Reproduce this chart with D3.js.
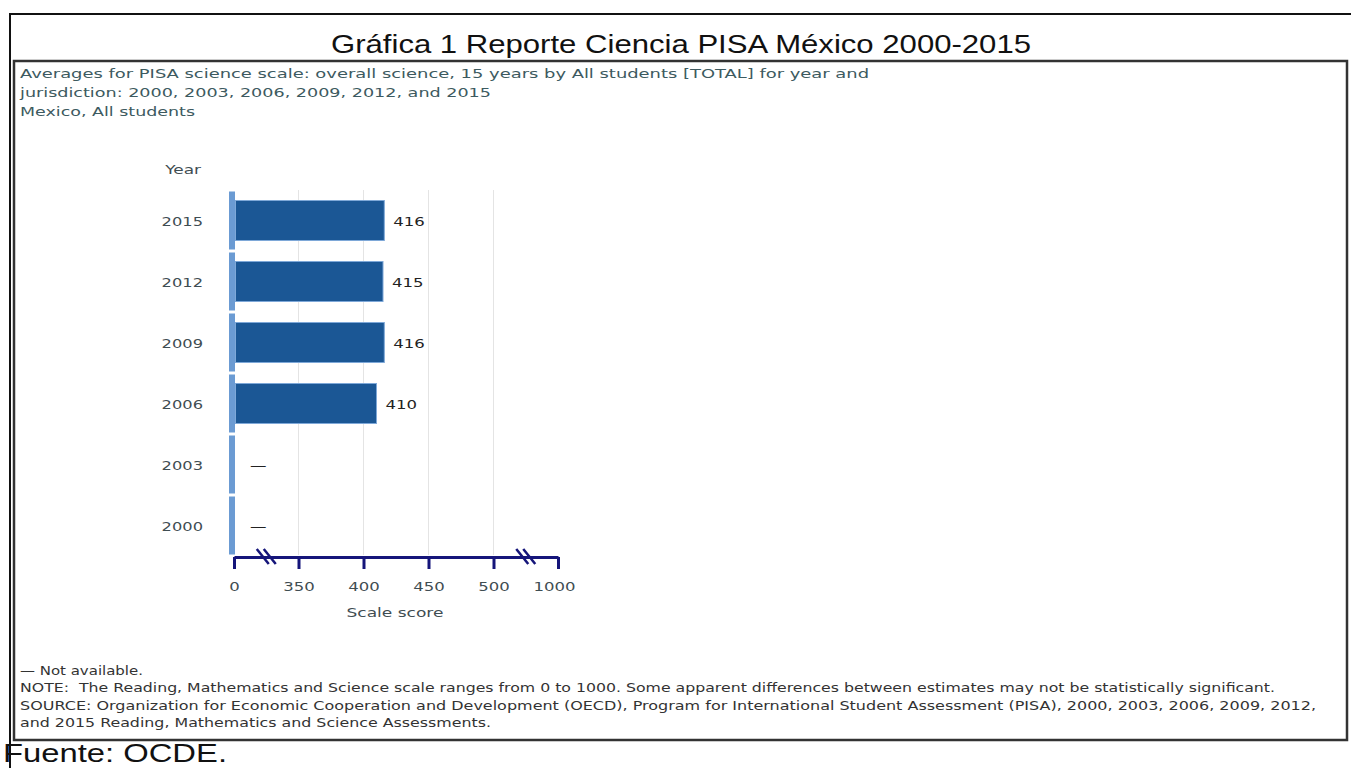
<!DOCTYPE html>
<html>
<head>
<meta charset="utf-8">
<script src="https://cdn.jsdelivr.net/npm/d3@7"></script>
<style>
  body { margin: 0; background: #fff; }
  svg { display: block; }
  text { white-space: pre; }
</style>
</head>
<body>
<div id="chart"></div>
<script>
// data
var years = ["2015", "2012", "2009", "2006", "2003", "2000"];
var scores = [416, 415, 416, 410, null, null];
var tickValues = [0, 350, 400, 450, 500, 1000];
var tickLabels = ["0", "350", "400", "450", "500", "1000"];

var titleText = "Gráfica 1 Reporte Ciencia PISA México 2000-2015";
var subtitleLines = [
  "Averages for PISA science scale: overall science, 15 years by All students [TOTAL] for year and",
  "jurisdiction: 2000, 2003, 2006, 2009, 2012, and 2015",
  "Mexico, All students"
];
var noteLines = [
  "— Not available.",
  "NOTE:  The Reading, Mathematics and Science scale ranges from 0 to 1000. Some apparent differences between estimates may not be statistically significant.",
  "SOURCE: Organization for Economic Cooperation and Development (OECD), Program for International Student Assessment (PISA), 2000, 2003, 2006, 2009, 2012,",
  "and 2015 Reading, Mathematics and Science Assessments."
];
var sourceText = "Fuente: OCDE.";

var W = 1351, H = 768;
var FONT = "'DejaVu Sans', Verdana, sans-serif";
var svg = d3.select("#chart").append("svg").attr("width", W).attr("height", H);

// the picture is wide: stretch text sideways
function stretch(sel, k) {
  sel.each(function(){
    var len = this.getComputedTextLength();
    d3.select(this).attr("textLength", len * k).attr("lengthAdjust", "spacingAndGlyphs");
  });
}

// frames
svg.append("path")
  .attr("d", "M10,768 L10,14 L1351,14")
  .attr("fill", "none").attr("stroke", "#111").attr("stroke-width", 2);
svg.append("rect")
  .attr("x", 14).attr("y", 61).attr("width", 1333).attr("height", 679)
  .attr("fill", "none").attr("stroke", "#333").attr("stroke-width", 2.5);

svg.append("text")
  .attr("x", 681).attr("y", 53)
  .attr("text-anchor", "middle")
  .style("font-family", "'Liberation Sans', Arial, sans-serif")
  .style("font-size", "26px").attr("fill", "#111")
  .attr("textLength", 700).attr("lengthAdjust", "spacingAndGlyphs")
  .text(titleText);

var subW = [849, 471, 175];
svg.selectAll(".sub").data(subtitleLines).enter().append("text")
  .attr("class", "sub")
  .attr("x", 20).attr("y", function(d, i){ return 78 + i*19; })
  .style("font-family", FONT)
  .style("font-size", "13px").attr("fill", "#3d5a60")
  .attr("textLength", function(d, i){ return subW[i]; })
  .attr("lengthAdjust", "spacingAndGlyphs")
  .text(function(d){ return d; });

// scales
var x = d3.scaleLinear()
  .domain([0, 350, 500, 1000])
  .range([234, 298.5, 493.5, 558]);
var y = d3.scaleBand().domain(years).range([190, 556]);

// grid lines
svg.selectAll(".grid").data(tickValues.slice(1, 5)).enter().append("line")
  .attr("x1", function(d){ return x(d); }).attr("x2", function(d){ return x(d); })
  .attr("y1", 190).attr("y2", 555)
  .attr("stroke", "#e4e4e4").attr("stroke-width", 1);

// light blue stripe per band
svg.selectAll(".stripe").data(years).enter().append("rect")
  .attr("x", 229).attr("width", 6)
  .attr("y", function(d){ return y(d) + 1.5; })
  .attr("height", y.bandwidth() - 3)
  .attr("fill", "#6b9bd3");

var rows = years.map(function(yr, i){ return {year: yr, score: scores[i]}; });

svg.selectAll(".bar").data(rows.filter(function(d){ return d.score != null; })).enter().append("rect")
  .attr("x", x(0) + 1.5)
  .attr("y", function(d){ return y(d.year) + 10.5; })
  .attr("width", function(d){ return x(d.score) - x(0) - 1.5; })
  .attr("height", y.bandwidth() - 21)
  .attr("fill", "#1b5795").attr("stroke", "#7ea8d8").attr("stroke-width", 1);

svg.selectAll(".val").data(rows).enter().append("text")
  .attr("x", function(d){ return d.score != null ? x(d.score) + 9 : 250; })
  .attr("y", function(d){ return y(d.year) + y.bandwidth()/2 + 5; })
  .style("font-family", FONT)
  .style("font-size", "13px").attr("fill", "#222")
  .text(function(d){ return d.score != null ? d.score : "—"; })
  .call(stretch, 1.27);

// y labels
svg.selectAll(".ylab").data(years).enter().append("text")
  .attr("x", 203)
  .attr("y", function(d){ return y(d) + y.bandwidth()/2 + 5; })
  .attr("text-anchor", "end")
  .style("font-family", FONT)
  .style("font-size", "13px").attr("fill", "#3f4d52")
  .text(function(d){ return d; })
  .call(stretch, 1.25);
svg.append("text")
  .attr("x", 201).attr("y", 174).attr("text-anchor", "end")
  .style("font-family", FONT)
  .style("font-size", "13px").attr("fill", "#3f4d52")
  .text("Year")
  .call(stretch, 1.3);

// x axis
var xAxis = d3.axisBottom(x)
  .tickValues(tickValues)
  .tickFormat(function(d, i){ return tickLabels[i]; })
  .tickSize(12).tickSizeOuter(0).tickPadding(13);
var gx = svg.append("g").attr("transform", "translate(0,557)").call(xAxis);
gx.select(".domain").attr("stroke", "#15157a").attr("stroke-width", 3);
gx.selectAll(".tick line").attr("stroke", "#15157a").attr("stroke-width", 3);
gx.selectAll(".tick text")
  .style("font-family", FONT)
  .style("font-size", "13px").attr("fill", "#3f4d52")
  .attr("dx", function(d){ return d === 1000 ? -4 : 0; })
  .call(stretch, 1.27);

// axis breaks
[ (x(0) + x(350)) / 2, (x(500) + x(1000)) / 2 ].forEach(function(cx){
  [-3.5, 3.5].forEach(function(off){
    gx.append("line")
      .attr("x1", cx + off - 6).attr("y1", -8)
      .attr("x2", cx + off + 6).attr("y2", 7)
      .attr("stroke", "#15157a").attr("stroke-width", 2.5);
  });
});

svg.append("text")
  .attr("x", 395).attr("y", 617).attr("text-anchor", "middle")
  .style("font-family", FONT)
  .style("font-size", "13px").attr("fill", "#3f4d52")
  .text("Scale score")
  .call(stretch, 1.31);

// notes
var noteW = [123, 1255, 1296, 471];
svg.selectAll(".note").data(noteLines).enter().append("text")
  .attr("x", 20).attr("y", function(d, i){ return 675 + i*17.3; })
  .style("font-family", FONT)
  .style("font-size", "12px").attr("fill", "#333")
  .attr("textLength", function(d, i){ return noteW[i]; })
  .attr("lengthAdjust", "spacingAndGlyphs")
  .text(function(d){ return d; });

svg.append("text")
  .attr("x", 3).attr("y", 762)
  .style("font-family", "'Liberation Sans', Arial, sans-serif")
  .style("font-size", "25px").attr("fill", "#111")
  .attr("textLength", 224).attr("lengthAdjust", "spacingAndGlyphs")
  .text(sourceText);
</script>
</body>
</html>
